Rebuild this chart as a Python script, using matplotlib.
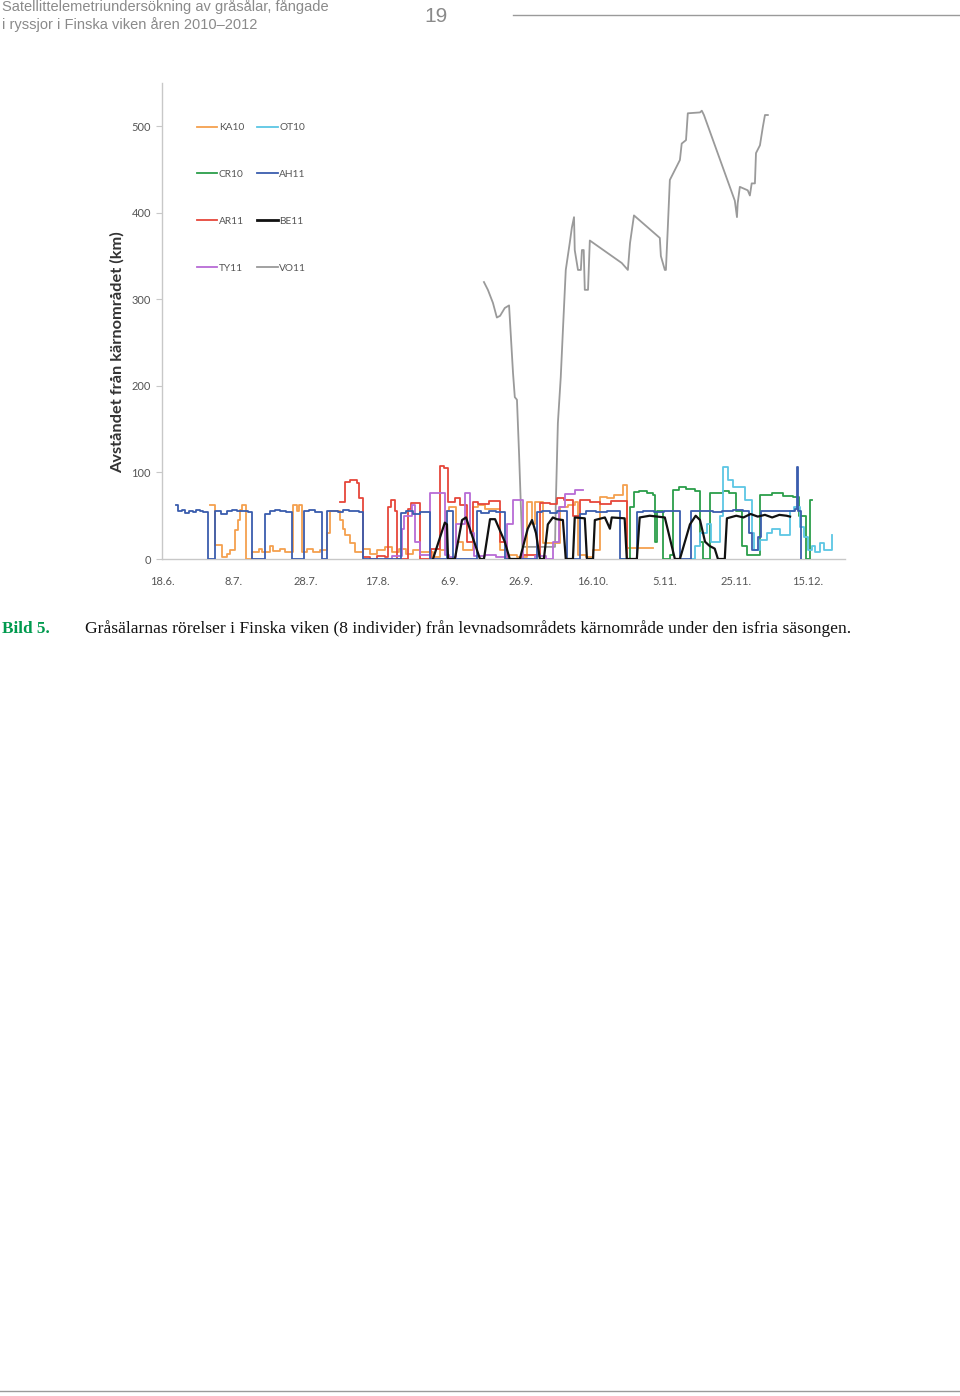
import matplotlib
matplotlib.use("Agg")
import matplotlib.pyplot as plt
from matplotlib.lines import Line2D

# ---------------- data (x = days after 18.6.) ----------------
tick_days = [0, 20, 40, 60, 80, 100, 120, 140, 160, 180]
tick_labels = ["18.6.", "8.7.", "28.7.", "17.8.", "6.9.", "26.9.", "16.10.", "5.11.", "25.11.", "15.12."]
y_ticks = [0, 100, 200, 300, 400, 500]

series_names = ["KA10", "OT10", "CR10", "AH11", "AR11", "BE11", "TY11", "VO11"]

AH11_d = [3.9, 4.4, 5.5, 6.5, 7.5, 8.5, 9.5, 10.5, 11.5, 12.8, 14.8, 16.5, 18, 19.5, 21, 22.5, 24, 25.1,
          28.7, 30, 31.5, 33, 34.5, 36.2, 39.6, 41, 42.5, 44.6, 46.0, 47.5, 49, 50.5, 52, 53.5, 55, 56.0,
          66.5, 68, 70, 72.0, 74.7, 79.4, 81.1, 87.7, 89, 91, 93, 95.5, 104.5, 106, 108, 110, 112.8, 116.4,
          118, 121, 124, 127.6, 132.3, 134, 137, 140, 144.3, 147.5, 150, 153.5, 156, 159, 162, 163.5, 164.5,
          166, 167, 170, 173, 176.5, 176.9, 177.2, 178]
AH11_v = [62, 55, 57, 53, 56, 54, 57, 55, 54, 0, 55, 52, 56, 57, 55, 56, 54, 0,
          52, 56, 57, 55, 54, 0, 55, 57, 54, 0, 55, 56, 54, 57, 55, 56, 54, 0,
          53, 55, 52, 54, 0, 56, 0, 55, 53, 56, 54, 0, 54, 56, 53, 55, 0, 52,
          55, 54, 56, 0, 54, 56, 54, 55, 0, 55, 56, 54, 55, 57, 55, 30, 10,
          25, 55, 56, 55, 58, 106, 55, 0]

KA10_d = [13.4, 14.8, 16.7, 18.0, 19.0, 20.3, 21.2, 21.7, 22.3, 23.5, 25.1, 27, 28, 30, 31, 33, 34.3,
          36.5, 37.5, 38.2, 39.0, 40.5, 42, 44, 46.0, 46.8, 48.2, 49.6, 50.5, 51.0, 52.4, 53.8, 56, 58, 60,
          62, 64, 66, 68, 70, 72, 75.5, 77.4, 79, 80, 82, 84, 86.6, 88, 90, 94.2, 96, 99, 101.7, 103.1, 104,
          106.1, 110.9, 113, 115, 116, 118, 120, 122.0, 124, 126, 128.4, 129.5, 136.8]
KA10_v = [62, 16, 2, 6, 10, 33, 45, 57, 62, 0, 8, 12, 8, 15, 9, 12, 8,
          62, 55, 62, 8, 12, 8, 10, 30, 55, 55, 45, 35, 28, 18, 8, 12, 6, 10,
          14, 8, 12, 6, 10, 8, 2, 10, 55, 60, 20, 10, 60, 62, 58, 10, 5, 2, 66, 40, 66,
          18, 60, 62, 66, 5, 2, 10, 72, 70, 74, 85, 13, 13]

AR11_d = [49.6, 51.0, 52.5, 54.3, 54.8, 56.0, 58, 60, 62, 63.0, 63.8, 65.0, 65.5, 68.5, 69.5, 71.9, 75,
          77.4, 78.5, 79.7, 81.5, 83.0, 85, 86.6, 88, 91, 94.2, 96, 100, 105.3, 108, 110.0, 112, 114.5,
          116.4, 119.2, 122, 125, 129.5, 130]
AR11_v = [66, 89, 91, 88, 70, 2, 0, 4, 2, 60, 68, 55, 0, 58, 65, 0, 12,
          108, 105, 66, 70, 62, 20, 66, 64, 67, 20, 0, 5, 65, 64, 70, 68, 50,
          68, 66, 64, 67, 0, 0]

TY11_d = [62, 64, 66.9, 67.5, 69.6, 70.5, 72, 74.7, 78.8, 80, 82, 84.4, 85.8, 87, 90, 93, 96, 97.8,
          100.6, 104, 107, 109, 110.5, 112.3, 115, 117.3]
TY11_v = [0, 3, 35, 50, 62, 20, 5, 76, 5, 2, 40, 76, 30, 3, 5, 2, 40, 68,
          0, 3, 0, 20, 60, 75, 80, 80]

BE11_d = [75.5, 78.8, 79.4, 79.7, 81.6, 83.6, 84.7, 88.6, 89.7, 91.4, 92.8, 95.5, 96.9, 99.7, 101.9, 103.1,
          104.2, 105.3, 106.4, 107.5, 108.9, 110.0, 111.7, 112.5, 114.5, 115.0, 117.8, 118.4, 120.1, 120.6,
          123.4, 124.8, 125.3, 128.9, 129.5, 132.3, 133.1, 135.9, 140.1, 142.9, 144.3, 147.1, 148.7, 149.9,
          151.3, 152.6, 154.0, 154.9, 156.8, 157.4, 160, 162, 164, 166, 168, 170, 172, 174, 175]
BE11_v = [0, 42, 40, 0, 0, 45, 48, 0, 0, 46, 46, 20, 0, 0, 35, 45,
          30, 0, 0, 40, 48, 46, 45, 0, 0, 48, 47, 0, 0, 45,
          48, 35, 48, 47, 0, 0, 48, 50, 48, 0, 0, 40, 50, 45,
          20, 15, 12, 0, 0, 47, 50, 48, 52, 49, 51, 48, 51, 50, 49]

CR10_d = [128.0, 130.4, 131.5, 133, 135, 136.8, 137.5, 138, 139.5, 141.5, 142.5, 144, 146, 148.5, 149.9,
          150.7, 152.6, 156.3, 158, 160, 161.5, 163, 166.5, 170, 173, 175.7, 177.5, 179.5, 180.5, 181.0]
CR10_v = [0, 60, 77, 79, 76, 74, 20, 55, 0, 5, 80, 83, 81, 79, 20,
          0, 76, 78, 76, 55, 15, 5, 74, 76, 73, 72, 50, 0, 68, 68]

OT10_d = [147.0, 148.5, 150, 151.8, 153, 155.4, 156.3, 157.7, 159.0, 162.4, 164.3, 165, 166.6, 168.5,
          170, 172.1, 174.9, 176, 177.7, 179.0, 179.9, 181, 182, 183.3, 184.5, 186.6]
OT10_v = [0, 15, 30, 40, 20, 50, 106, 91, 83, 68, 30, 10, 22, 30,
          35, 28, 55, 60, 37, 25, 10, 15, 8, 18, 10, 28]

VO11_d = [89.7, 90.8, 92.2, 93.3, 94.2, 95.5, 96.7, 97.8, 98.3, 98.9, 99.5, 100.0, 100.4, 109.5, 109.7,
          110.3, 111.1, 111.7, 112.5, 113.6, 114.2, 114.8, 115.0, 115.9, 116.7, 117.0, 117.5, 117.8, 118.7,
          119.2, 128.1, 129.8, 130.4, 131.5, 138.7, 139.0, 140.1, 140.4, 140.9, 141.5, 144.3, 144.8, 146.0,
          146.5, 149.9, 150.4, 151.0, 159.6, 160.2, 160.4, 161.0, 163.2, 163.8, 164.3, 165.2, 165.5, 166.6,
          167.4, 168.0, 168.8]
VO11_v = [320, 311, 296, 279, 281, 290, 293, 215, 187, 184, 120, 60, 14, 14, 60,
          157, 210, 264, 334, 365, 383, 395, 357, 334, 334, 357, 357, 311, 311,
          368, 342, 334, 365, 397, 371, 350, 334, 334, 380, 438, 461, 480, 484,
          515, 516, 518, 513, 414, 395, 411, 430, 426, 420, 434, 434, 469, 478,
          499, 513, 513]

colors = {"KA10": "#F4A04E", "OT10": "#5CC6E4", "CR10": "#2B9E4A", "AH11": "#3A5DAE",
          "AR11": "#E6463A", "BE11": "#111111", "TY11": "#B86BD6", "VO11": "#9A9A9A"}

# ---------------- figure ----------------
fig = plt.figure(figsize=(9.6, 13.96), dpi=100)
fig.patch.set_facecolor("white")

ax = fig.add_axes([162 / 960, 1 - 559 / 1396, (845 - 162) / 960, (559 - 83) / 1396])

lw = 1.3
ax.plot(VO11_d, VO11_v, color=colors["VO11"], lw=lw, zorder=2)
ax.plot(KA10_d, KA10_v, color=colors["KA10"], lw=lw, drawstyle="steps-post", zorder=3)
ax.plot(AR11_d, AR11_v, color=colors["AR11"], lw=lw, drawstyle="steps-post", zorder=3)
ax.plot(TY11_d, TY11_v, color=colors["TY11"], lw=lw, drawstyle="steps-post", zorder=3)
ax.plot(CR10_d, CR10_v, color=colors["CR10"], lw=lw, drawstyle="steps-post", zorder=3)
ax.plot(OT10_d, OT10_v, color=colors["OT10"], lw=lw, drawstyle="steps-post", zorder=3)
ax.plot(AH11_d, AH11_v, color=colors["AH11"], lw=lw, drawstyle="steps-post", zorder=4)
ax.plot(BE11_d, BE11_v, color=colors["BE11"], lw=1.6, zorder=5)

ax.set_xlim(0, 190.3)
ax.set_ylim(0, 550)
ax.set_xticks(tick_days)
ax.set_xticklabels(tick_labels)
ax.set_yticks(y_ticks)
for s in ["top", "right"]:
    ax.spines[s].set_visible(False)
for s in ["left", "bottom"]:
    ax.spines[s].set_color("#c8c8c8")
    ax.spines[s].set_linewidth(1.0)
ax.tick_params(axis="y", length=4, color="#c8c8c8", labelsize=8, labelcolor="#555555", pad=4)
ax.tick_params(axis="x", length=0, labelsize=8, labelcolor="#555555", pad=12)
for t in ax.get_xticklabels() + ax.get_yticklabels():
    t.set_family("Lato")

fig.text(117 / 960, 1 - 352 / 1396, "Avståndet från kärnområdet (km)", rotation=90,
         ha="center", va="center", fontsize=11.8, fontweight="bold", family="Lato", color="#333333")

# legend (row-wise reading order: KA10 OT10 / CR10 AH11 / AR11 BE11 / TY11 VO11)
col_major = ["KA10", "CR10", "AR11", "TY11", "OT10", "AH11", "BE11", "VO11"]
handles = [Line2D([0], [0], color=colors[n], lw=1.3 if n != "BE11" else 2.0) for n in col_major]
leg = fig.legend(handles, col_major, ncol=2, loc="upper left",
                 bbox_to_anchor=(197 / 960, 1 - 123 / 1396), bbox_transform=fig.transFigure,
                 frameon=False, labelspacing=3.72, handlelength=2.0,
                 handletextpad=0.15, columnspacing=1.3, borderpad=0, borderaxespad=0,
                 prop={"family": "Lato", "size": 7.3})
for t in leg.get_texts():
    t.set_color("#555555")

# header
fig.text(2 / 960, 1 - 7 / 1396, "Satellittelemetriundersökning av gråsålar, fångade",
         ha="left", va="center", fontsize=10.5, family="Liberation Sans", color="#8a8a8a")
fig.text(2 / 960, 1 - 25 / 1396, "i ryssjor i Finska viken åren 2010–2012",
         ha="left", va="center", fontsize=10.5, family="Liberation Sans", color="#8a8a8a")
fig.text(436 / 960, 1 - 16 / 1396, "19", ha="center", va="center", fontsize=15,
         family="Liberation Sans", color="#8a8a8a")
fig.add_artist(Line2D([513 / 960, 1.0], [1 - 15 / 1396, 1 - 15 / 1396],
                      transform=fig.transFigure, color="#9a9a9a", lw=1.0))

# caption
fig.text(2 / 960, 1 - 629 / 1396, "Bild 5.", ha="left", va="center", fontsize=12.3,
         family="Liberation Serif", fontweight="bold", color="#009a4e")
fig.text(85 / 960, 1 - 629 / 1396,
         "Gråsälarnas rörelser i Finska viken (8 individer) från levnadsområdets kärnområde under den isfria säsongen.",
         ha="left", va="center", fontsize=12.6, family="Liberation Serif", color="#111111")

# bottom rule
fig.add_artist(Line2D([0, 1.0], [1 - 1391 / 1396, 1 - 1391 / 1396],
                      transform=fig.transFigure, color="#9a9a9a", lw=1.0))

fig.savefig("out.png", dpi=100, facecolor="white")
